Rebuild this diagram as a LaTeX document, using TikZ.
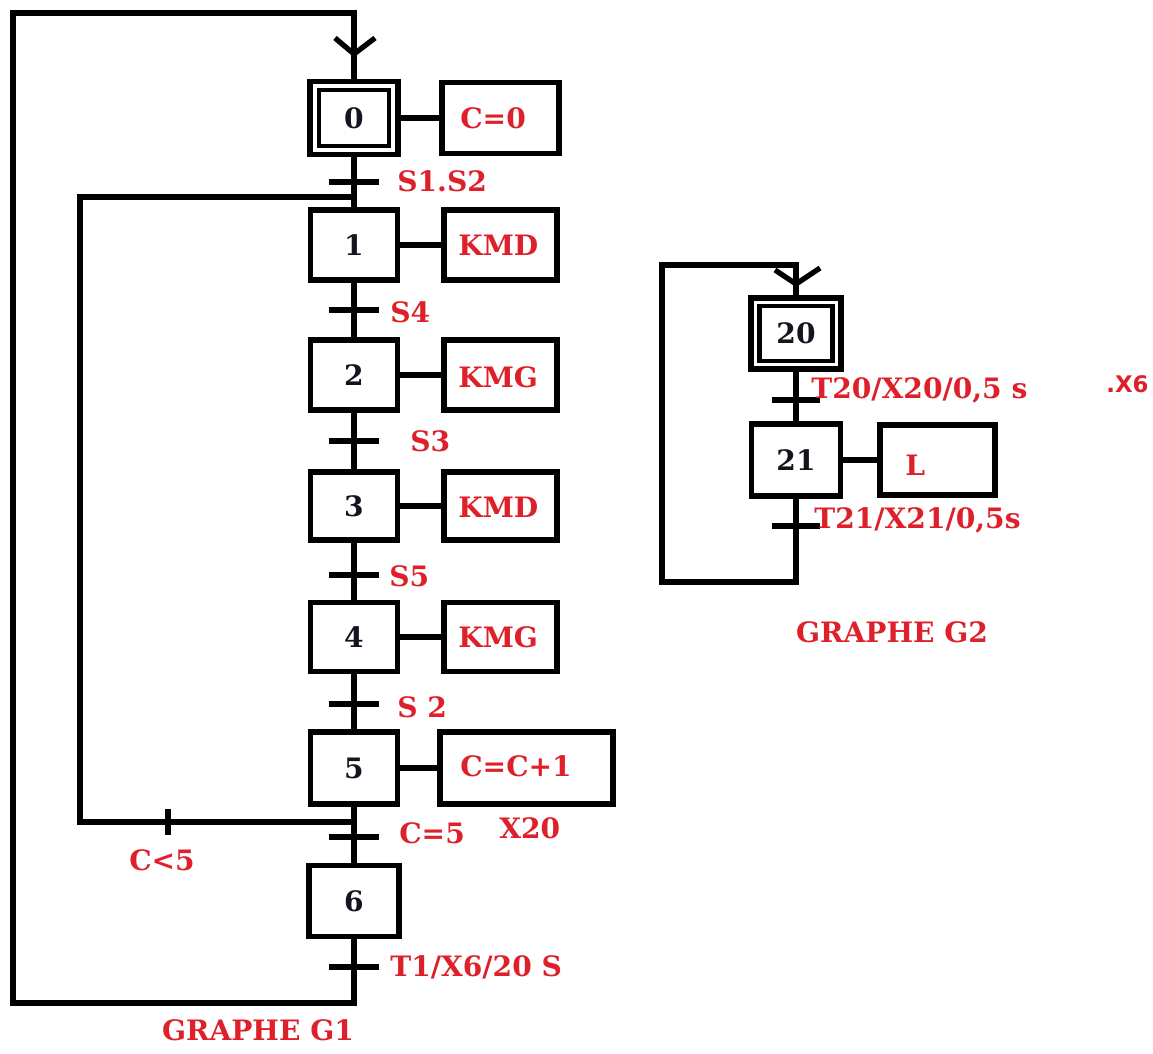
\documentclass[tikz,border=0pt]{standalone}
\usepackage{fontspec}
\setmainfont{DejaVu Serif}
\newfontfamily\lblsans{DejaVu Sans}
\usetikzlibrary{calc}
\definecolor{lblred}{RGB}{222,32,42}
\definecolor{numblack}{RGB}{20,20,30}
\begin{document}
\begin{tikzpicture}[x=0.02cm,y=-0.02cm,
  link/.style={line width=3pt},
  stepbox/.style={draw,line width=3pt,minimum width=1.74cm,minimum height=1.4cm,inner sep=0pt,
    font=\bfseries\fontsize{16}{19}\selectfont,text=numblack},
  innerbox/.style={draw,line width=2.5pt,inner sep=0pt,font=\bfseries\fontsize{16}{19}\selectfont,text=numblack},
  actbox/.style={draw,line width=3pt,minimum height=1.4cm,inner sep=0pt},
  lbl/.style={text=lblred,font=\bfseries\fontsize{16}{19}\selectfont,inner sep=0pt,anchor=west},
  tickline/.style={line width=3pt}
]
\useasboundingbox (0,0) rectangle (1153,1054);

% ---------------- GRAPHE G1 ----------------
\node[draw,line width=3pt,minimum width=1.76cm,minimum height=1.46cm,inner sep=0pt] (s0) at (354,118) {};
\node[innerbox,minimum width=1.40cm,minimum height=1.12cm] (s0i) at (354,118) {0};
\node[stepbox] (s1) at (354,245) {1};
\node[stepbox] (s2) at (354,375) {2};
\node[stepbox,minimum height=1.36cm] (s3) at (354,506) {3};
\node[stepbox,minimum height=1.38cm] (s4) at (354,637) {4};
\node[stepbox,minimum height=1.44cm] (s5) at (354,768) {5};
\node[stepbox,minimum width=1.80cm,minimum height=1.42cm] (s6) at (354,901) {6};

% actions
\node[actbox,minimum width=2.34cm,minimum height=1.42cm] (a0) at (500.5,118) {};
\node[lbl] (a0t) at (460,118) {C=0};
\node[actbox,minimum width=2.26cm] (a1) at (500.5,245) {};
\node[lbl] (a1t) at (458,245) {KMD};
\node[actbox,minimum width=2.26cm] (a2) at (500.5,375) {};
\node[lbl] (a2t) at (458,377) {KMG};
\node[actbox,minimum width=2.26cm,minimum height=1.36cm] (a3) at (500.5,506) {};
\node[lbl] (a3t) at (458,507) {KMD};
\node[actbox,minimum width=2.26cm,minimum height=1.38cm] (a4) at (500.5,637) {};
\node[lbl] (a4t) at (458,637) {KMG};
\node[actbox,minimum width=3.46cm,minimum height=1.44cm] (a5) at (526.5,768) {};
\node[lbl] (a5t) at (460,766) {C=C+1};

\foreach \s/\a in {s0/a0,s1/a1,s2/a2,s3/a3,s4/a4,s5/a5}
  \draw[link] (\s.east) -- (\a.west);

% trunk links
\draw[link] (s0.south) -- (s1.north);
\draw[link] (s1.south) -- (s2.north);
\draw[link] (s2.south) -- (s3.north);
\draw[link] (s3.south) -- (s4.north);
\draw[link] (s4.south) -- (s5.north);
\draw[link] (s5.south) -- (s6.north);

% transitions
\coordinate (t01) at (354,182);
\coordinate (t12) at (354,310);
\coordinate (t23) at (354,441);
\coordinate (t34) at (354,575);
\coordinate (t45) at (354,704);
\coordinate (t56) at (354,837);
\coordinate (t60) at (354,967);
\foreach \t in {t01,t12,t23,t34,t45,t56,t60}
  \draw[tickline] ($(\t)+(-25,0)$) -- ($(\t)+(25,0)$);

\node[lbl] (l01) at (397,181) {S1.S2};
\node[lbl] (l12) at (390,312) {S4};
\node[lbl] (l23) at (410,441) {S3};
\node[lbl] (l34) at (389,576) {S5};
\node[lbl] (l45) at (397,707) {S 2};
\node[lbl] (l56) at (399,833) {C=5};
\node[lbl] (lx20) at (499,828) {X20};
\node[lbl] (l60) at (390,967) {T1/X6/20 S};

% loop C<5
\coordinate (j5) at (354,822);
\coordinate (jl5) at (80,822);
\coordinate (jl1) at (80,197);
\coordinate (j1) at (354,197);
\draw[link] (j5) -- (jl5) -- (jl1) -- (j1);
\coordinate (tc5) at (168,822);
\draw[tickline] ($(tc5)+(0,-13)$) -- ($(tc5)+(0,13)$);
\node[lbl,anchor=center] (lc5) at (162,860) {C<5};

% main loop back to step 0
\coordinate (g1b) at (354,1003);
\coordinate (g1bl) at (13,1003);
\coordinate (g1tl) at (13,13);
\coordinate (g1t) at (354,13);
\draw[link] (s6.south) -- (g1b) -- (g1bl) -- (g1tl) -- (g1t) -- (s0.north);
\draw[link] ($(g1t)+(-19,25)$) -- ($(g1t)+(0,41)$) -- ($(g1t)+(21,25)$);

\node[lbl,anchor=center] (g1name) at (258,1030) {GRAPHE G1};

% ---------------- GRAPHE G2 ----------------
\node[draw,line width=3pt,minimum width=1.80cm,minimum height=1.42cm,inner sep=0pt] (s20) at (796,333.5) {};
\node[innerbox,minimum width=1.46cm,minimum height=1.10cm] (s20i) at (796,333.5) {20};
\node[stepbox,minimum width=1.78cm,minimum height=1.44cm] (s21) at (796,460) {21};
\node[actbox,minimum width=2.30cm,minimum height=1.40cm] (aL) at (937.5,460) {};
\node[lbl] (aLt) at (905,465) {L};
\draw[link] (s21.east) -- (aL.west);

\draw[link] (s20.south) -- (s21.north);
\coordinate (t2021) at (796,400);
\coordinate (t2120) at (796,526);
\foreach \t in {t2021,t2120}
  \draw[tickline] ($(\t)+(-24,0)$) -- ($(\t)+(24,0)$);
\node[lbl] (l2021) at (811,390) {T20/X20/0,5 s};
\node[text=lblred,font=\lblsans\bfseries\fontsize{13}{15}\selectfont,inner sep=0pt,anchor=west] (lx6) at (1106,384) {.X6};
\node[lbl] (l2120) at (814,520) {T21/X21/0,5s};

\coordinate (g2b) at (796,582);
\coordinate (g2bl) at (662,582);
\coordinate (g2tl) at (662,265);
\coordinate (g2t) at (796,265);
\draw[link] (s21.south) -- (g2b) -- (g2bl) -- (g2tl) -- (g2t) -- (s20.north);
\draw[link] ($(g2t)+(-21,5)$) -- ($(g2t)+(0,19)$) -- ($(g2t)+(24,3)$);

\node[lbl,anchor=center] (g2name) at (892,632) {GRAPHE G2};
\end{tikzpicture}
\end{document}
